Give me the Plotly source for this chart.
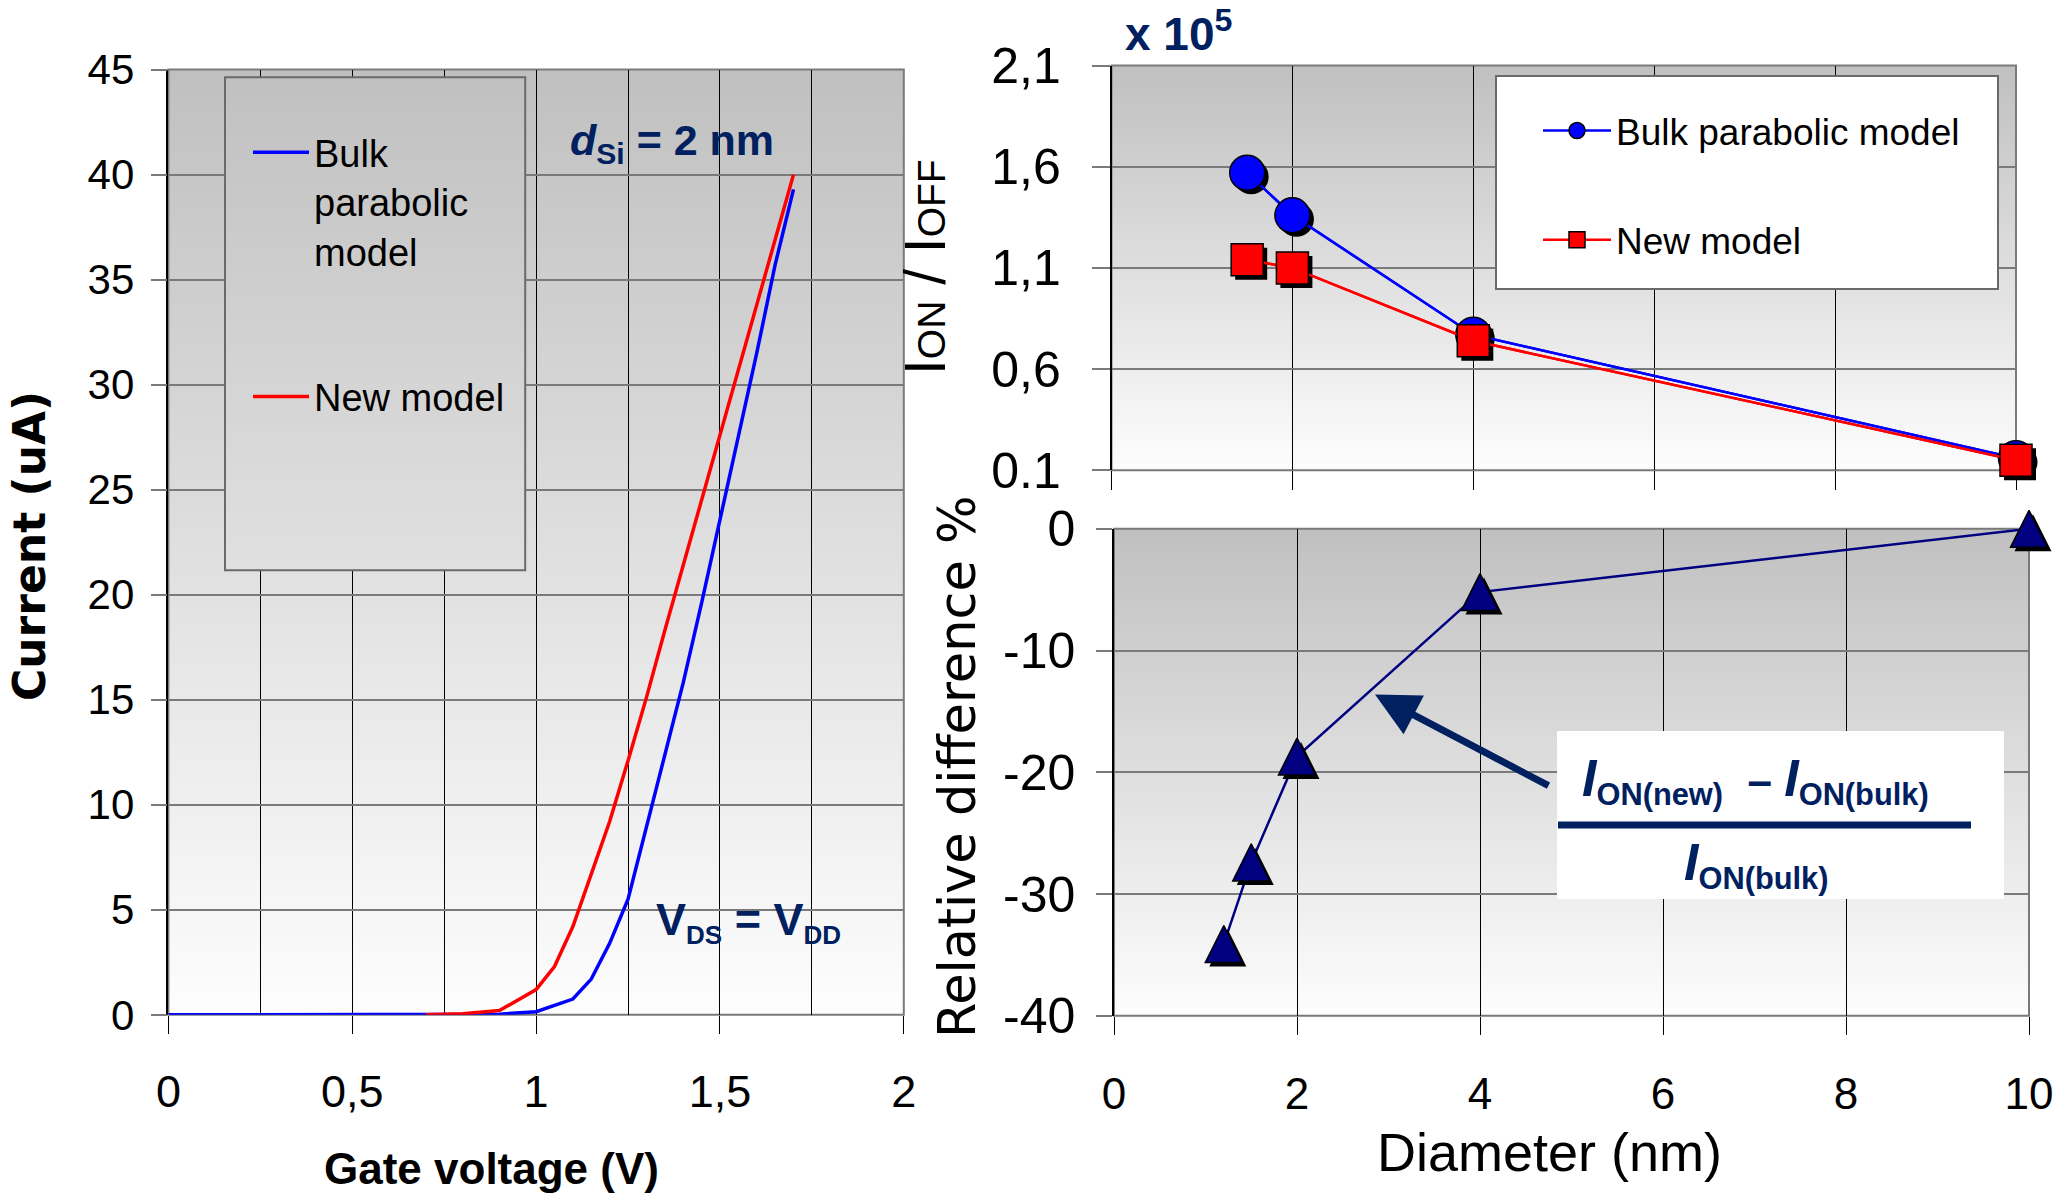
import plotly.graph_objects as go

W, H = 2060, 1195

# ---------------- data ----------------
gate_v_bulk = [0, 0.1, 0.2, 0.3, 0.4, 0.5, 0.6, 0.7, 0.8, 0.9, 1.0, 1.1, 1.15, 1.2,
               1.25, 1.3, 1.35, 1.4, 1.45, 1.5, 1.55, 1.6, 1.65, 1.7]
current_bulk = [0, 0, 0, 0, 0, 0, 0, 0, 0.01, 0.03, 0.15, 0.75, 1.7, 3.4,
                5.5, 8.9, 12.3, 15.8, 19.6, 23.6, 27.6, 31.5, 35.7, 39.3]
gate_v_new = [0.7, 0.8, 0.9, 1.0, 1.05, 1.1, 1.15, 1.2, 1.25, 1.3, 1.35, 1.4,
              1.45, 1.5, 1.55, 1.6, 1.65, 1.7]
current_new = [0.0, 0.05, 0.2, 1.2, 2.3, 4.2, 6.7, 9.2, 12.1, 15.1, 18.3, 21.4,
               24.6, 27.7, 30.8, 33.9, 37.0, 40.0]

diameter_ratio = [1.5, 2, 4, 10]
ratio_bulk = [1.57, 1.36, 0.77, 0.16]
ratio_new = [1.14, 1.10, 0.74, 0.15]

diameter_diff = [1.2, 1.5, 2, 4, 10]
rel_diff = [-34.1, -27.4, -18.7, -5.2, 0]

gate_ticks = [0, 0.5, 1, 1.5, 2]
gate_labels = ["0", "0,5", "1", "1,5", "2"]
gate_minor = [0.25, 0.75, 1.25, 1.75]
current_ticks = [0, 5, 10, 15, 20, 25, 30, 35, 40, 45]
ratio_ticks = [0.1, 0.6, 1.1, 1.6, 2.1]
ratio_labels = ["0.1", "0,6", "1,1", "1,6", "2,1"]
diff_ticks = [-40, -30, -20, -10, 0]
diff_labels = ["-40", "-30", "-20", "-10", "0"]
diam_ticks = [0, 2, 4, 6, 8, 10]

# ---------------- layout geometry (pixels) ----------------
LEFT = (168.4, 69.6, 903.8, 1014.8)   # x0, ytop, x1, ybottom
TOPR = (1111.5, 65.5, 2016.0, 470.3)
BOTR = (1114.0, 528.8, 2029.0, 1015.8)

ARIAL = "Liberation Sans, Arial, sans-serif"
DEJAVU = "DejaVu Sans, Verdana, sans-serif"
NAVY = "#002060"
TRI_NAVY = "#000080"
GRID_GRAY = "#7a7a7a"
SH = 4          # marker shadow offset (px)
TRI = 37        # triangle marker size
TR_R = TRI / 2


def xdom(b, dx=0.0):
    return [(b[0] + dx) / W, (b[2] + dx) / W]


def ydom(b, dy=0.0):
    # dy > 0 moves the area down (pixels)
    return [1 - (b[3] + dy) / H, 1 - (b[1] + dy) / H]


def px(x):
    return x / W


def py(y):
    return 1 - y / H


TOPC, BOTC = 192, 253


def gcol(t):
    v = round(TOPC + (BOTC - TOPC) * t)
    return f"rgb({v},{v},{v})"


shapes = []


def add_gradient(xref, yref, x0=0, x1=1, y0=0, y1=1, layer="below", n=70):
    for i in range(n):
        ya = y1 - (y1 - y0) * i / n
        yb = y1 - (y1 - y0) * (i + 1) / n
        t = 1 - (ya + yb) / 2
        shapes.append(dict(type="rect", xref=xref, yref=yref, x0=x0, x1=x1,
                           y0=max(y0, yb - 0.003), y1=ya, fillcolor=gcol(t),
                           line=dict(width=0), layer=layer))


for xr, yr in (("x domain", "y domain"), ("x2 domain", "y2 domain"), ("x3 domain", "y3 domain")):
    add_gradient(xr, yr)
    shapes.append(dict(type="rect", xref=xr, yref=yr, x0=0, x1=1, y0=0, y1=1,
                       line=dict(color=GRID_GRAY, width=2), layer="below"))

# left legend box (opaque, same gradient as plot)
lbx0 = (225 - LEFT[0]) / (LEFT[2] - LEFT[0])
lbx1 = (525.2 - LEFT[0]) / (LEFT[2] - LEFT[0])
lby0 = (LEFT[3] - 570.2) / (LEFT[3] - LEFT[1])
lby1 = (LEFT[3] - 77.3) / (LEFT[3] - LEFT[1])
add_gradient("x domain", "y domain", lbx0, lbx1, lby0, lby1, layer="above", n=50)
shapes.append(dict(type="rect", xref="x domain", yref="y domain", x0=lbx0, x1=lbx1,
                   y0=lby0, y1=lby1, line=dict(color="#6a6a6a", width=2), layer="above"))

# right legend box
shapes.append(dict(type="rect", xref="paper", yref="paper", x0=px(1496), x1=px(1998),
                   y0=py(289), y1=py(76), fillcolor="white",
                   line=dict(color="#6a6a6a", width=2), layer="above"))
# formula box + fraction bar
shapes.append(dict(type="rect", xref="paper", yref="paper", x0=px(1557), x1=px(2004),
                   y0=py(899), y1=py(731), fillcolor="white", line=dict(width=0), layer="above"))
shapes.append(dict(type="line", xref="paper", yref="paper", x0=px(1558), x1=px(1971),
                   y0=py(825), y1=py(825), line=dict(color=NAVY, width=7), layer="above"))

fig = go.Figure()

# ---------------- left: I-V curves ----------------
fig.add_trace(go.Scatter(x=gate_v_bulk, y=current_bulk, mode="lines",
                         line=dict(color="#0000ff", width=3.5),
                         name="Bulk<br>parabolic<br>model", legend="legend", legendgroup="a",
                         xaxis="x", yaxis="y"))
fig.add_trace(go.Scatter(x=gate_v_new, y=current_new, mode="lines",
                         line=dict(color="#ff0000", width=3.5),
                         name="New model", legend="legend", legendgroup="b",
                         xaxis="x", yaxis="y"))

# ---------------- top right: ION/IOFF ----------------
fig.add_trace(go.Scatter(x=diameter_ratio, y=ratio_bulk, mode="lines", xaxis="x2", yaxis="y2",
                         line=dict(color="#0000ff", width=2.5), showlegend=False, hoverinfo="skip"))
fig.add_trace(go.Scatter(x=diameter_ratio, y=ratio_new, mode="lines", xaxis="x2", yaxis="y2",
                         line=dict(color="#ff0000", width=2.5), showlegend=False, hoverinfo="skip"))
fig.add_trace(go.Scatter(x=diameter_ratio, y=ratio_bulk, mode="markers", xaxis="x4", yaxis="y4",
                         marker=dict(symbol="circle", size=35, color="black"),
                         showlegend=False, cliponaxis=False, hoverinfo="skip"))
fig.add_trace(go.Scatter(x=diameter_ratio, y=ratio_new, mode="markers", xaxis="x4", yaxis="y4",
                         marker=dict(symbol="square", size=32, color="black"),
                         showlegend=False, cliponaxis=False, hoverinfo="skip"))
fig.add_trace(go.Scatter(x=diameter_ratio, y=ratio_bulk, mode="lines+markers", xaxis="x5", yaxis="y5",
                         line=dict(color="#0000ff", width=2.5),
                         marker=dict(symbol="circle", size=35, color="#0000ff",
                                     line=dict(color="black", width=1.5)),
                         name="Bulk parabolic model", legend="legend2", legendgroup="c",
                         cliponaxis=False))
fig.add_trace(go.Scatter(x=diameter_ratio, y=ratio_new, mode="lines+markers", xaxis="x5", yaxis="y5",
                         line=dict(color="#ff0000", width=2.5),
                         marker=dict(symbol="square", size=32, color="#ff0000",
                                     line=dict(color="black", width=1.5)),
                         name="New model", legend="legend2", legendgroup="d",
                         cliponaxis=False))

# ---------------- bottom right: relative difference ----------------
fig.add_trace(go.Scatter(x=diameter_diff, y=rel_diff, mode="lines", xaxis="x3", yaxis="y3",
                         line=dict(color=TRI_NAVY, width=2.5), showlegend=False))
fig.add_trace(go.Scatter(x=diameter_diff, y=rel_diff, mode="markers", xaxis="x6", yaxis="y6",
                         marker=dict(symbol="arrow-up", size=TRI, color="black"),
                         showlegend=False, cliponaxis=False, hoverinfo="skip"))
fig.add_trace(go.Scatter(x=diameter_diff, y=rel_diff, mode="markers", xaxis="x7", yaxis="y7",
                         marker=dict(symbol="arrow-up", size=TRI, color=TRI_NAVY,
                                     line=dict(color="black", width=1.5)),
                         showlegend=False, cliponaxis=False))

# ---------------- annotations ----------------
ann = []


def text(t, x, y, size, family=ARIAL, color="black", angle=0, xanchor="center", yanchor="middle"):
    ann.append(dict(text=t, x=px(x), y=py(y), xref="paper", yref="paper", showarrow=False,
                    font=dict(family=family, size=size, color=color), textangle=angle,
                    xanchor=xanchor, yanchor=yanchor))


text("<b>Current (uA)</b>", 30, 546, 44, family=DEJAVU, angle=-90)
text("<b>Gate voltage (V)</b>", 491, 1168, 44)
text('I<span style="font-size:39px">ON</span> / I<span style="font-size:39px">OFF</span>',
     925, 267, 57, angle=-90)
text("Relative difference %", 957, 767, 51, family=DEJAVU, angle=-90)
text("Diameter (nm)", 1549, 1152, 54)
text("<b>x 10<sup>5</sup></b>", 1123, 31, 46, color=NAVY, xanchor="left")
text('<b><i>d</i><sub>Si</sub> = 2 nm</b>', 568, 143, 43, color=NAVY, xanchor="left")
text('<b>V<sub><span style="font-size:26px">DS</span></sub> = V<sub><span style="font-size:26px">DD</span></sub></b>',
     654, 922, 45, color=NAVY, xanchor="left")
text('<b><i><span style="font-size:52px">I</span></i><sub>ON(new)</sub> &nbsp;– <i><span style="font-size:52px">I</span></i><sub>ON(bulk)</sub></b>',
     1755, 780, 44, color=NAVY)
text('<b><i><span style="font-size:52px">I</span></i><sub>ON(bulk)</sub></b>',
     1756, 864, 44, color=NAVY)

ann.append(dict(text="", x=px(1375), y=py(694.5), xref="paper", yref="paper",
                showarrow=True, ax=175, ay=92, arrowhead=2, arrowsize=1.25,
                arrowwidth=7, arrowcolor=NAVY))

# ---------------- axes ----------------
common_grid = dict(zeroline=False, showgrid=True)
hidden = dict(visible=False, showgrid=False, zeroline=False, fixedrange=True)

fig.update_layout(
    width=W, height=H,
    margin=dict(l=0, r=0, t=0, b=0, autoexpand=False),
    paper_bgcolor="white", plot_bgcolor="rgba(0,0,0,0)",
    font=dict(family=ARIAL, color="black"),
    showlegend=True,
    shapes=shapes,
    annotations=ann,
    xaxis=dict(domain=xdom(LEFT), anchor="y", range=[0, 2], tickvals=gate_ticks, ticktext=gate_labels,
               ticks="outside", ticklen=18, tickcolor="black", tickwidth=1,
               gridcolor="black", gridwidth=1,
               minor=dict(tickvals=gate_minor, showgrid=True, gridcolor="black", gridwidth=1, ticks=""),
               tickfont=dict(size=45), ticklabelstandoff=19, **common_grid),
    yaxis=dict(domain=ydom(LEFT), anchor="x", range=[0, 45], tickvals=current_ticks,
               ticks="outside", ticklen=16, tickcolor=GRID_GRAY, tickwidth=2,
               gridcolor=GRID_GRAY, gridwidth=2, showline=True, linecolor="black", linewidth=1.5,
               tickfont=dict(size=42), ticklabelstandoff=8, **common_grid),
    xaxis2=dict(domain=xdom(TOPR), anchor="y2", range=[0, 10], tickvals=diam_ticks,
                showticklabels=False, ticks="outside", ticklen=19, tickcolor="black", tickwidth=1,
                gridcolor="black", gridwidth=1, **common_grid),
    yaxis2=dict(domain=ydom(TOPR), anchor="x2", range=[0.1, 2.1], tickvals=ratio_ticks,
                ticktext=ratio_labels, ticks="outside", ticklen=18, tickcolor=GRID_GRAY, tickwidth=2,
                gridcolor=GRID_GRAY, gridwidth=2, showline=True, linecolor="black", linewidth=1.5,
                tickfont=dict(size=50), ticklabelstandoff=21, **common_grid),
    xaxis3=dict(domain=xdom(BOTR), anchor="y3", range=[0, 10], tickvals=diam_ticks,
                ticks="outside", ticklen=18, tickcolor="black", tickwidth=1,
                gridcolor="black", gridwidth=1, tickfont=dict(size=44), ticklabelstandoff=21,
                **common_grid),
    yaxis3=dict(domain=ydom(BOTR), anchor="x3", range=[-40, 0], tickvals=diff_ticks,
                ticktext=diff_labels, ticks="outside", ticklen=16, tickcolor=GRID_GRAY, tickwidth=2,
                gridcolor=GRID_GRAY, gridwidth=2, showline=True, linecolor="black", linewidth=1.5,
                tickfont=dict(size=50), ticklabelstandoff=11, **common_grid),
    # hidden companion axes: same ranges, areas offset by a few pixels (marker shadows,
    # and triangle markers whose symbol anchor is at the apex)
    xaxis4=dict(domain=xdom(TOPR, SH), anchor="y4", range=[0, 10], **hidden),
    yaxis4=dict(domain=ydom(TOPR, SH), anchor="x4", range=[0.1, 2.1], **hidden),
    xaxis5=dict(domain=xdom(TOPR), anchor="y5", range=[0, 10], **hidden),
    yaxis5=dict(domain=ydom(TOPR), anchor="x5", range=[0.1, 2.1], **hidden),
    xaxis6=dict(domain=xdom(BOTR, SH), anchor="y6", range=[0, 10], **hidden),
    yaxis6=dict(domain=ydom(BOTR, -(TR_R - SH)), anchor="x6", range=[-40, 0], **hidden),
    xaxis7=dict(domain=xdom(BOTR), anchor="y7", range=[0, 10], **hidden),
    yaxis7=dict(domain=ydom(BOTR, -TR_R), anchor="x7", range=[-40, 0], **hidden),
    legend=dict(x=px(248), y=py(121), xanchor="left", yanchor="top", bgcolor="rgba(0,0,0,0)",
                borderwidth=0, font=dict(size=38, family=ARIAL), tracegroupgap=93, valign="top",
                itemwidth=56),
    legend2=dict(x=px(1538), y=py(100), xanchor="left", yanchor="top", bgcolor="rgba(0,0,0,0)",
                 borderwidth=0, font=dict(size=37, family=ARIAL), tracegroupgap=58, itemwidth=68),
)

fig.write_html("out.html")
